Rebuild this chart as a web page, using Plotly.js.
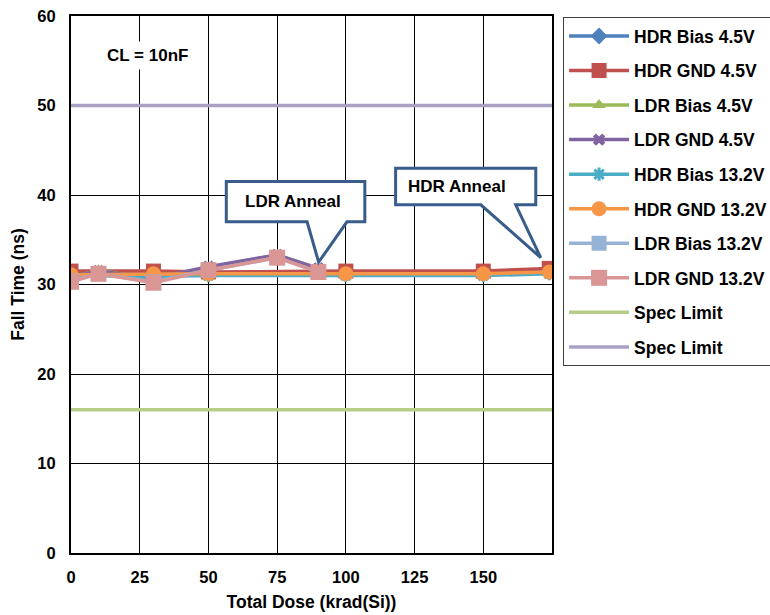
<!DOCTYPE html>
<html><head><meta charset="utf-8">
<script src="https://cdn.plot.ly/plotly-3.0.1.min.js"></script>
<style>body{margin:0;background:#fff}#c{width:770px;height:615px}</style>
</head><body><div id="c"></div>
<script>
const hdrDose = [0, 30, 50, 100, 150, 174];
const ldrDose = [0, 10, 30, 50, 75, 90];
const hdrBias45 = [31.3, 31.3, 31.2, 31.2, 31.2, 31.6];
const hdrGnd45 = [31.5, 31.5, 31.4, 31.5, 31.5, 31.8];
const ldrBias45 = [30.8, 31.6, 30.6, 31.9, 33.3, 31.8];
const ldrGnd45 = [30.9, 31.5, 30.7, 32.0, 33.3, 31.8];
const hdrBias132 = [31.0, 30.9, 31.0, 31.0, 31.0, 31.2];
const hdrGnd132 = [31.1, 31.2, 31.2, 31.2, 31.2, 31.4];
const ldrBias132 = [30.4, 31.2, 30.3, 31.6, 33.0, 31.4];
const ldrGnd132 = [30.3, 31.2, 30.2, 31.6, 33.0, 31.4];
const specDose = [0, 175];
const specLow = [16, 16];
const specHigh = [50, 50];
const xTicks = [0, 25, 50, 75, 100, 125, 150];
const yTicks = [0, 10, 20, 30, 40, 50, 60];

function s(name, x, y, color, symbol, size, mline) {
  return {type:'scatter', mode:'lines+markers', name:name, x:x, y:y, legendgroup:name,
    line:{color:color, width:3.5},
    marker:{color:color, symbol:symbol, size:size, line:mline||{width:0}}};
}
const traces = [
  s('HDR Bias 4.5V', hdrDose, hdrBias45, '#4f81bd', 'diamond', 13),
  s('HDR GND 4.5V', hdrDose, hdrGnd45, '#c0504d', 'square', 15),
  s('LDR Bias 4.5V', ldrDose, ldrBias45, '#9bbb59', 'triangle-up', 12),
  s('LDR GND 4.5V', ldrDose, ldrGnd45, '#8064a2', 'x', 11),
  s('HDR Bias 13.2V', hdrDose, hdrBias132, '#4bacc6', 'asterisk', 11, {color:'#4bacc6', width:3}),
  s('HDR GND 13.2V', hdrDose, hdrGnd132, '#f79646', 'circle', 15),
  s('LDR Bias 13.2V', ldrDose, ldrBias132, '#95b3d7', 'square', 15),
  s('LDR GND 13.2V', ldrDose, ldrGnd132, '#d99694', 'square', 16),
  {type:'scatter', mode:'lines', name:'Spec Limit', x:specDose, y:specLow, legendgroup:'sl1', line:{color:'#b5cd89', width:3.5}},
  {type:'scatter', mode:'lines', name:'Spec Limit', x:specDose, y:specHigh, legendgroup:'sl2', line:{color:'#aa9fc5', width:3.5}}
];
const F = 'Liberation Sans, Arial, sans-serif';
const bc = '#385d8a';
function callout(l, r, t, b, bl, br, tx, ty) {
  return {type:'path', xref:'x', yref:'y', layer:'above',
    path:`M${l},${t} L${r},${t} L${r},${b} L${br},${b} L${tx},${ty} L${bl},${b} L${l},${b} Z`,
    fillcolor:'#ffffff', line:{color:bc, width:3}};
}
const layout = {
  width:770, height:615, margin:{l:71, r:218, t:16, b:62, autoexpand:false},
  paper_bgcolor:'#fff', plot_bgcolor:'#fff',
  font:{family:F, size:16, color:'#000'},
  showlegend:true,
  legend:{x:1.023, y:0.998, xanchor:'left', yanchor:'top', bordercolor:'#404040', borderwidth:1,
    font:{family:F, size:17.5, color:'#000', weight:'bold'}, tracegroupgap:8.8, bgcolor:'#fff',
    itemwidth:60, maxheight:600},
  xaxis:{range:[0,175], tickvals:xTicks, ticktext:xTicks.map(String), showgrid:true, gridcolor:'#000', gridwidth:1,
    showline:true, linecolor:'#000', linewidth:2, mirror:true, ticks:'', zeroline:false,
    tickfont:{family:F, size:16.5, weight:'bold'}, ticklabelstandoff:8,
    title:{text:'Total Dose (krad(Si))', font:{family:F, size:17.5, weight:'bold'}, standoff:11}},
  yaxis:{range:[0,60], tickvals:yTicks, showgrid:true, gridcolor:'#000', gridwidth:1,
    showline:true, linecolor:'#000', linewidth:2, mirror:true, ticks:'', zeroline:false,
    tickfont:{family:F, size:16.5, weight:'bold'}, ticklabelstandoff:10,
    title:{text:'Fall Time (ns)', font:{family:F, size:17.5, weight:'bold'}, standoff:8}},
  shapes:[
    callout(56.5, 106.9, 41.5, 37.0, 85.9, 100.4, 90.1, 32.5),
    callout(118.1, 169.1, 43.0, 38.9, 149.1, 161.8, 170.9, 33.0)
  ],
  annotations:[
    {x:80.6, y:39.25, xref:'x', yref:'y', text:'LDR Anneal', showarrow:false, font:{family:F, size:17, weight:'bold'}},
    {x:140.6, y:40.95, xref:'x', yref:'y', text:'HDR Anneal', showarrow:false, font:{family:F, size:17, weight:'bold'}},
    {x:27.7, y:55.6, xref:'x', yref:'y', text:'CL = 10nF', showarrow:false, bgcolor:'#fff', borderpad:4, font:{family:F, size:17, weight:'bold'}}
  ]
};
Plotly.newPlot('c', traces, layout, {displayModeBar:false, staticPlot:true});
</script></body></html>
